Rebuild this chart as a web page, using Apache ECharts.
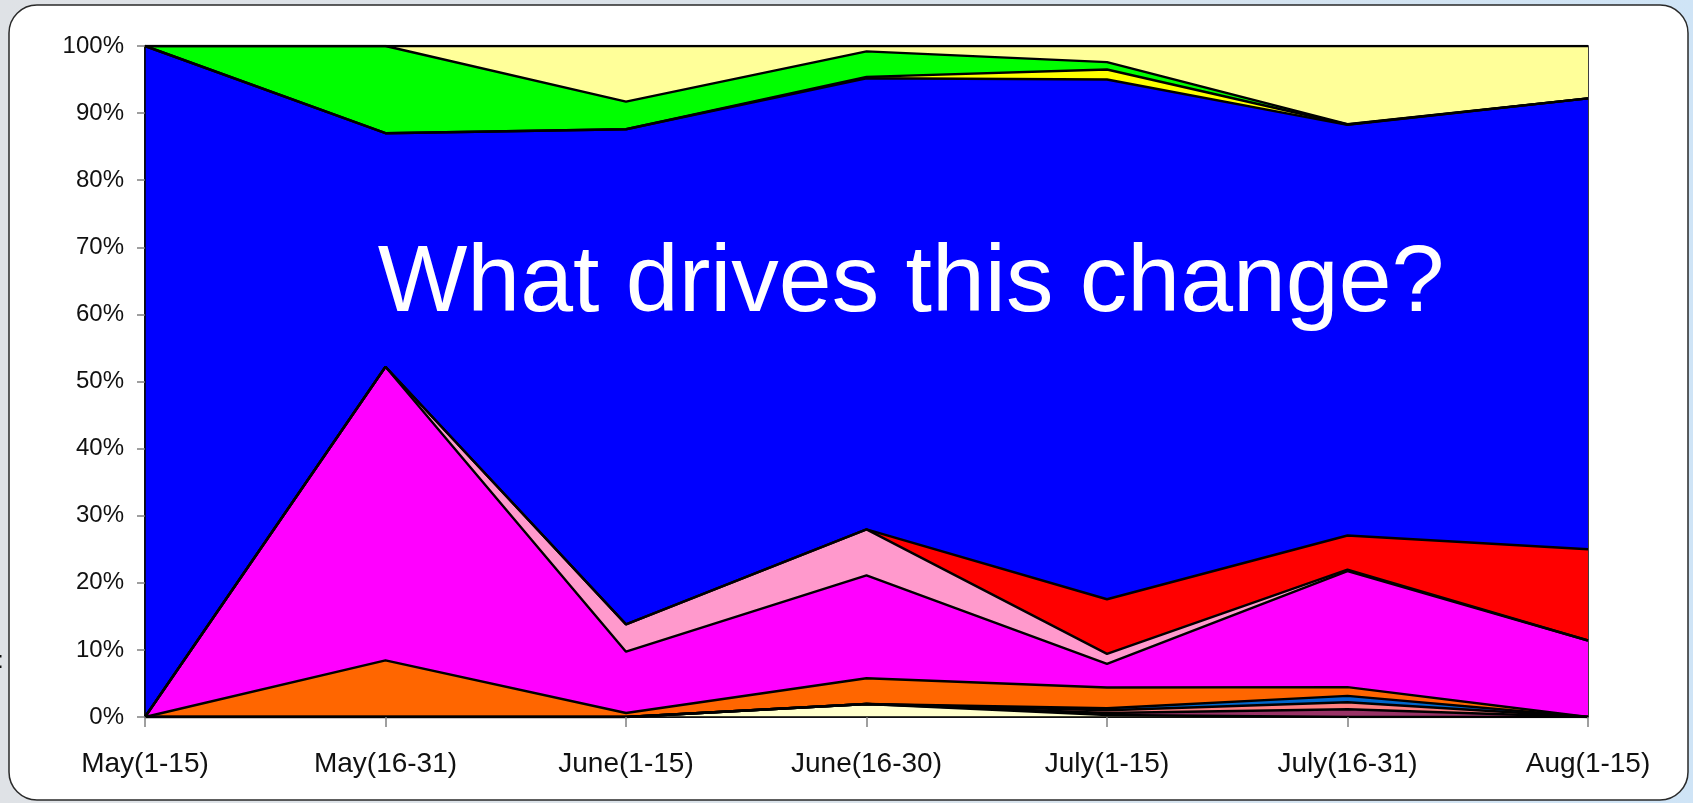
<!DOCTYPE html>
<html>
<head>
<meta charset="utf-8">
<title>What drives this change?</title>
<script src="https://cdn.jsdelivr.net/npm/echarts@6/dist/echarts.min.js"></script>
<style>
  html, body { margin: 0; padding: 0; }
  body {
    width: 1693px; height: 803px; overflow: hidden;
    background: linear-gradient(90deg, #dfe2e6 0%, #d9e2ea 50%, #cfe4f6 100%);
  }
  #chart { width: 1693px; height: 803px; }
</style>
</head>
<body>
<div id="chart"></div>
<script>
// Half-month periods on the category axis
const periods = ['May(1-15)', 'May(16-31)', 'June(1-15)', 'June(16-30)', 'July(1-15)', 'July(16-31)', 'Aug(1-15)'];

// Share of each group per period (percent), listed bottom layer first
const creamShare    = [0,    0,     0,     1.94,  0.3,   0,     0];
const maroonShare   = [0,    0,     0,     0,     0.3,   1.15,  0];
const salmonShare   = [0,    0,     0,     0,     0.4,   1.05,  0];
const steelShare    = [0,    0,     0,     0,     0.3,   0.95,  0];
const orangeShare   = [0,    8.45,  0.6,   3.83,  3.1,   1.3,   0];
const magentaShare  = [0,    43.75, 9.13,  15.33, 3.5,   17.3,  11.4];
const pinkShare     = [0,    0,     4.07,  6.87,  1.5,   0.2,   0];
const redShare      = [0,    0,     0,     0,     8.15,  5.1,   13.6];
const blueShare     = [100,  34.8,  73.8,  67.23, 77.45, 61.2,  67.2];
const yellowShare   = [0,    0,     0,     0.2,   1.5,   0.05,  0];
const greenShare    = [0,    13.0,  4.1,   3.8,   1.1,   0.05,  0];
const paleShare     = [0,    0,     8.3,   0.8,   2.4,   11.65, 7.8];

// Y axis tick values (percent)
const yTicks = [0, 10, 20, 30, 40, 50, 60, 70, 80, 90, 100];

const layers = [
  { name: 'Cream',   data: creamShare,   color: '#FFFFCC' },
  { name: 'Maroon',  data: maroonShare,  color: '#993366' },
  { name: 'Salmon',  data: salmonShare,  color: '#FF8080' },
  { name: 'Steel',   data: steelShare,   color: '#0066CC' },
  { name: 'Orange',  data: orangeShare,  color: '#FF6600' },
  { name: 'Magenta', data: magentaShare, color: '#FF00FF' },
  { name: 'Pink',    data: pinkShare,    color: '#FF99CC' },
  { name: 'Red',     data: redShare,     color: '#FF0000' },
  { name: 'Blue',    data: blueShare,    color: '#0000FF' },
  { name: 'Yellow',  data: yellowShare,  color: '#FFFF00' },
  { name: 'Green',   data: greenShare,   color: '#00FF00' },
  { name: 'Pale',    data: paleShare,    color: '#FFFF99' }
];

const FONT = '"Liberation Sans", Arial, sans-serif';

// Filled bands of the stacked area
const areaSeries = layers.map(l => ({
  name: l.name,
  type: 'line',
  stack: 'share',
  data: l.data,
  symbol: 'none',
  silent: true,
  lineStyle: { width: 0 },
  areaStyle: { color: l.color, opacity: 1 },
  itemStyle: { color: l.color },
  z: 2
}));

// Black outlines along the top of every band, drawn above all fills
const edgeSeries = layers.map(l => ({
  name: l.name + ' edge',
  type: 'line',
  stack: 'edges',
  data: l.data,
  symbol: 'none',
  silent: true,
  lineStyle: { color: '#000', width: 2.4 },
  z: 3
}));

const chart = echarts.init(document.getElementById('chart'), null, { renderer: 'canvas' });

chart.setOption({
  backgroundColor: 'transparent',
  animation: false,
  graphic: [
    {
      type: 'rect',
      z: -10,
      shape: { x: 9, y: 5, width: 1679, height: 795, r: 28 },
      style: { fill: '#ffffff', stroke: '#2a2a2a', lineWidth: 1.5 }
    },
    {
      type: 'text',
      z: -9,
      left: -3,
      top: 649,
      style: { text: ':', fill: '#111', font: '24px ' + FONT }
    },
    {
      type: 'text',
      z: 10,
      x: 911,
      y: 285,
      style: {
        text: 'What drives this change?',
        fill: '#ffffff',
        font: '95px ' + FONT,
        align: 'center',
        verticalAlign: 'middle'
      }
    }
  ],
  grid: {
    left: 145, right: 105, top: 46, bottom: 86,
    show: true, borderColor: '#000', borderWidth: 1.5,
    backgroundColor: 'transparent'
  },
  xAxis: {
    type: 'category',
    data: periods,
    boundaryGap: false,
    axisLine: { show: true, lineStyle: { color: '#000', width: 1.5 } },
    axisTick: { show: true, alignWithLabel: true, length: 10, lineStyle: { color: '#808080', width: 1.5 } },
    axisLabel: { color: '#111', fontSize: 28, fontFamily: FONT, margin: 33, interval: 0 },
    splitLine: { show: false },
    z: 5
  },
  yAxis: {
    type: 'value',
    min: yTicks[0],
    max: yTicks[yTicks.length - 1],
    interval: yTicks[1] - yTicks[0],
    axisLine: { show: true, lineStyle: { color: '#000', width: 1.5 } },
    axisTick: { show: true, length: 8, lineStyle: { color: '#808080', width: 1.5 } },
    axisLabel: { color: '#111', fontSize: 24, fontFamily: FONT, margin: 21, formatter: '{value}%' },
    splitLine: { show: false },
    z: 5
  },
  series: areaSeries.concat(edgeSeries)
});
</script>
</body>
</html>
